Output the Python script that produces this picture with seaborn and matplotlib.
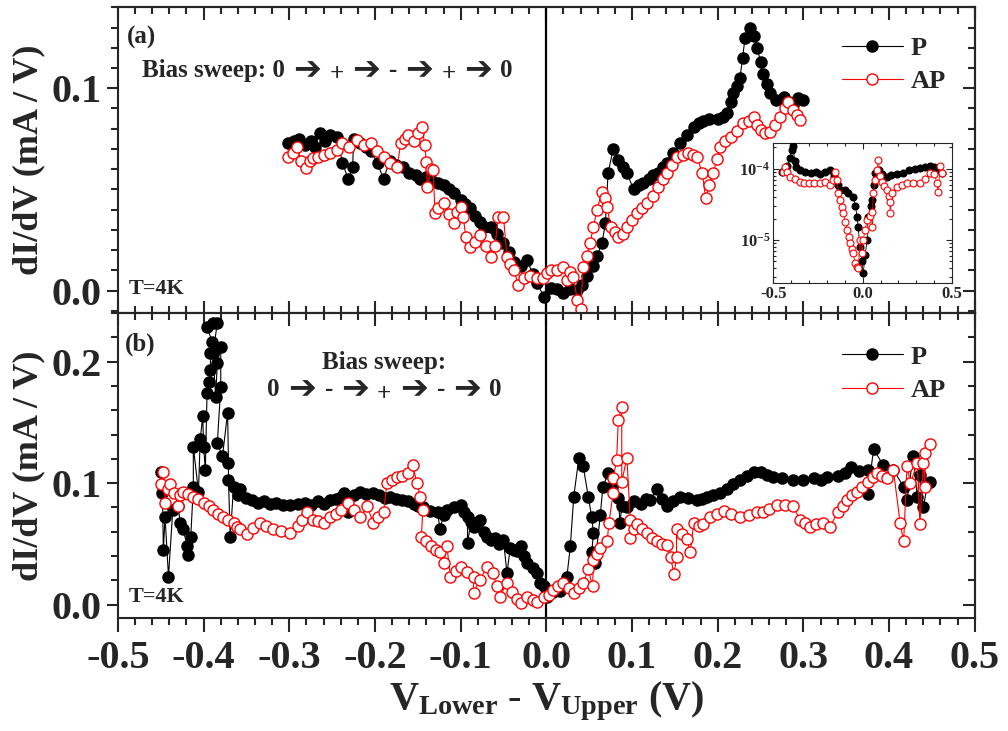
import numpy as np
import matplotlib
matplotlib.use("Agg")
import matplotlib.pyplot as plt
import seaborn as sns
from matplotlib.ticker import MultipleLocator, LogLocator, NullFormatter

# ---- data: (bias V, dI/dV mA/V) ----
top_p = np.array([
    [-0.301, 0.073], [-0.295, 0.074], [-0.289, 0.075], [-0.282, 0.072], [-0.275, 0.074],
    [-0.270, 0.071], [-0.264, 0.078], [-0.258, 0.074], [-0.252, 0.077], [-0.244, 0.076],
    [-0.238, 0.063], [-0.231, 0.055], [-0.226, 0.061], [-0.225, 0.075], [-0.218, 0.073],
    [-0.211, 0.071], [-0.205, 0.069], [-0.197, 0.063], [-0.190, 0.055], [-0.183, 0.064],
    [-0.175, 0.062], [-0.167, 0.061], [-0.160, 0.058], [-0.152, 0.057], [-0.147, 0.055],
    [-0.140, 0.056], [-0.133, 0.054], [-0.127, 0.053], [-0.120, 0.052], [-0.114, 0.050],
    [-0.108, 0.048], [-0.100, 0.045], [-0.095, 0.043], [-0.089, 0.041], [-0.083, 0.037],
    [-0.078, 0.034], [-0.073, 0.0315], [-0.065, 0.0315], [-0.058, 0.028], [-0.050, 0.0236],
    [-0.044, 0.019], [-0.038, 0.014], [-0.030, 0.012], [-0.022, 0.015], [-0.016, 0.008],
    [-0.011, 0.004], [-0.003, -0.003], [0.005, 0.0015], [0.012, 0.001], [0.020, -0.001],
    [0.028, 0.001], [0.036, 0.0005], [0.042, 0.003], [0.048, 0.007], [0.054, 0.012],
    [0.059, 0.017], [0.065, 0.0235], [0.069, 0.0335], [0.072, 0.058], [0.078, 0.070],
    [0.084, 0.0645], [0.089, 0.061], [0.094, 0.058], [0.102, 0.050], [0.108, 0.052],
    [0.113, 0.053], [0.120, 0.055], [0.125, 0.057], [0.130, 0.058], [0.136, 0.061],
    [0.141, 0.063], [0.148, 0.068], [0.156, 0.073], [0.164, 0.077], [0.172, 0.081],
    [0.178, 0.083], [0.183, 0.084], [0.190, 0.085], [0.200, 0.085], [0.206, 0.086],
    [0.211, 0.0877], [0.215, 0.093], [0.218, 0.0975], [0.222, 0.101], [0.226, 0.105],
    [0.229, 0.115], [0.232, 0.125], [0.238, 0.130], [0.242, 0.126], [0.246, 0.120],
    [0.250, 0.113], [0.253, 0.107], [0.257, 0.102], [0.261, 0.0975], [0.268, 0.094],
    [0.277, 0.0955], [0.283, 0.093], [0.288, 0.0916], [0.294, 0.095], [0.299, 0.094],
])

top_ap = np.array([
    [-0.301, 0.066], [-0.296, 0.068], [-0.291, 0.071], [-0.286, 0.064], [-0.281, 0.0606],
    [-0.276, 0.064], [-0.272, 0.0655], [-0.266, 0.066], [-0.260, 0.067], [-0.252, 0.068],
    [-0.244, 0.0695], [-0.238, 0.073], [-0.230, 0.071], [-0.221, 0.0744], [-0.213, 0.072],
    [-0.205, 0.073], [-0.198, 0.069], [-0.190, 0.066], [-0.182, 0.063], [-0.174, 0.061],
    [-0.170, 0.073], [-0.165, 0.075], [-0.161, 0.0768], [-0.155, 0.074], [-0.150, 0.078],
    [-0.145, 0.081], [-0.142, 0.072], [-0.140, 0.0636], [-0.139, 0.0512], [-0.135, 0.060],
    [-0.132, 0.0596], [-0.130, 0.0384], [-0.126, 0.041], [-0.120, 0.0433], [-0.114, 0.038],
    [-0.108, 0.0335], [-0.104, 0.039], [-0.100, 0.0414], [-0.097, 0.0365], [-0.094, 0.0266],
    [-0.089, 0.0217], [-0.083, 0.024], [-0.077, 0.0276], [-0.071, 0.022], [-0.065, 0.0167],
    [-0.060, 0.022], [-0.056, 0.0365], [-0.050, 0.0365], [-0.046, 0.0167], [-0.042, 0.013],
    [-0.038, 0.0103], [-0.033, 0.003], [-0.026, 0.006], [-0.019, 0.007], [-0.011, 0.006],
    [-0.0035, 0.0064], [0.001, 0.0089], [0.006, 0.010], [0.013, 0.0103], [0.020, 0.0118],
    [0.0245, 0.0054], [0.028, 0.009], [0.0315, 0.0069], [0.036, -0.0044], [0.040, -0.009],
    [0.043, 0.0118], [0.047, 0.017], [0.051, 0.0236], [0.055, 0.0315], [0.059, 0.040],
    [0.065, 0.0488], [0.068, 0.046], [0.071, 0.0414], [0.075, 0.0315], [0.080, 0.029],
    [0.084, 0.0266], [0.089, 0.028], [0.094, 0.0315], [0.100, 0.035], [0.106, 0.0384],
    [0.112, 0.041], [0.118, 0.0433], [0.124, 0.047], [0.130, 0.0512], [0.136, 0.055],
    [0.141, 0.058], [0.147, 0.062], [0.153, 0.066], [0.159, 0.067], [0.165, 0.068],
    [0.171, 0.067], [0.176, 0.066], [0.182, 0.058], [0.186, 0.0458], [0.190, 0.052],
    [0.195, 0.058], [0.199, 0.065], [0.203, 0.071], [0.209, 0.074], [0.215, 0.0759],
    [0.222, 0.079], [0.230, 0.0828], [0.236, 0.084], [0.242, 0.0857], [0.246, 0.082],
    [0.250, 0.0793], [0.255, 0.078], [0.261, 0.0783], [0.267, 0.082], [0.273, 0.0857],
    [0.278, 0.090], [0.282, 0.0931], [0.288, 0.0892], [0.292, 0.087], [0.296, 0.0842],
])

bot_p = np.array([
    [-0.450, 0.109], [-0.448, 0.092], [-0.447, 0.045], [-0.445, 0.072], [-0.441, 0.023],
    [-0.436, 0.078], [-0.430, 0.081], [-0.427, 0.067], [-0.424, 0.062], [-0.419, 0.048],
    [-0.418, 0.041], [-0.415, 0.056], [-0.412, 0.097], [-0.412, 0.130], [-0.406, 0.093],
    [-0.404, 0.136], [-0.401, 0.155], [-0.400, 0.130], [-0.398, 0.111], [-0.396, 0.174],
    [-0.394, 0.183], [-0.392, 0.193], [-0.392, 0.207], [-0.390, 0.216], [-0.396, 0.229],
    [-0.389, 0.232], [-0.384, 0.232], [-0.389, 0.207], [-0.386, 0.171], [-0.384, 0.199],
    [-0.380, 0.212], [-0.380, 0.179], [-0.384, 0.133], [-0.378, 0.122], [-0.372, 0.158],
    [-0.371, 0.117], [-0.371, 0.103], [-0.369, 0.056], [-0.365, 0.097], [-0.360, 0.090],
    [-0.357, 0.095], [-0.350, 0.088], [-0.343, 0.086], [-0.337, 0.084], [-0.330, 0.085],
    [-0.322, 0.083], [-0.315, 0.084], [-0.307, 0.082], [-0.299, 0.082], [-0.290, 0.083],
    [-0.282, 0.084], [-0.275, 0.082], [-0.267, 0.085], [-0.260, 0.083], [-0.252, 0.086],
    [-0.245, 0.087], [-0.240, 0.089], [-0.236, 0.092], [-0.232, 0.076], [-0.225, 0.090],
    [-0.217, 0.093], [-0.210, 0.091], [-0.202, 0.092], [-0.195, 0.090], [-0.188, 0.088],
    [-0.182, 0.089], [-0.175, 0.087], [-0.168, 0.086], [-0.162, 0.085], [-0.155, 0.083],
    [-0.150, 0.081], [-0.144, 0.080], [-0.136, 0.077], [-0.127, 0.076], [-0.124, 0.062],
    [-0.120, 0.074], [-0.116, 0.078], [-0.108, 0.080], [-0.100, 0.082], [-0.096, 0.076],
    [-0.092, 0.072], [-0.092, 0.051], [-0.088, 0.068], [-0.085, 0.064], [-0.081, 0.066],
    [-0.077, 0.070], [-0.073, 0.060], [-0.069, 0.056], [-0.065, 0.053], [-0.060, 0.055],
    [-0.055, 0.050], [-0.050, 0.053], [-0.046, 0.026], [-0.042, 0.047], [-0.038, 0.045],
    [-0.034, 0.044], [-0.030, 0.048], [-0.026, 0.040], [-0.022, 0.034], [-0.016, 0.030],
    [-0.011, 0.026], [-0.007, 0.018], [-0.003, 0.015], [0.001, 0.0066], [0.008, 0.010],
    [0.016, 0.011], [0.024, 0.023], [0.028, 0.048], [0.032, 0.089], [0.038, 0.121],
    [0.043, 0.114], [0.049, 0.089], [0.053, 0.072], [0.055, 0.059], [0.053, 0.043],
    [0.057, 0.034], [0.063, 0.074], [0.066, 0.097], [0.072, 0.108], [0.077, 0.097],
    [0.084, 0.088], [0.086, 0.067], [0.088, 0.081], [0.094, 0.080], [0.102, 0.085],
    [0.110, 0.083], [0.116, 0.087], [0.121, 0.086], [0.129, 0.095], [0.135, 0.087],
    [0.141, 0.081], [0.148, 0.085], [0.156, 0.089], [0.165, 0.088], [0.176, 0.086],
    [0.182, 0.087], [0.188, 0.089], [0.195, 0.090], [0.203, 0.092], [0.211, 0.095],
    [0.218, 0.099], [0.226, 0.103], [0.234, 0.106], [0.242, 0.109], [0.250, 0.109],
    [0.257, 0.107], [0.265, 0.105], [0.275, 0.104], [0.288, 0.103], [0.300, 0.103],
    [0.312, 0.104], [0.320, 0.103], [0.328, 0.105], [0.340, 0.106], [0.348, 0.108],
    [0.355, 0.113], [0.365, 0.110], [0.375, 0.111], [0.375, 0.091], [0.382, 0.128],
    [0.393, 0.115], [0.405, 0.111], [0.417, 0.097], [0.421, 0.086], [0.428, 0.122],
    [0.433, 0.089], [0.436, 0.107], [0.440, 0.080], [0.445, 0.100], [0.448, 0.101],
])

bot_ap = np.array([
    [-0.450, 0.099], [-0.447, 0.109], [-0.445, 0.084], [-0.442, 0.095], [-0.439, 0.099],
    [-0.434, 0.092], [-0.430, 0.081], [-0.427, 0.090], [-0.424, 0.093], [-0.418, 0.091],
    [-0.412, 0.089], [-0.406, 0.087], [-0.400, 0.084], [-0.394, 0.081], [-0.389, 0.078],
    [-0.383, 0.075], [-0.377, 0.072], [-0.371, 0.070], [-0.365, 0.067], [-0.361, 0.064],
    [-0.357, 0.062], [-0.349, 0.058], [-0.342, 0.063], [-0.334, 0.067], [-0.327, 0.065],
    [-0.319, 0.062], [-0.310, 0.061], [-0.299, 0.059], [-0.290, 0.065], [-0.285, 0.070],
    [-0.279, 0.076], [-0.272, 0.070], [-0.266, 0.069], [-0.260, 0.067], [-0.252, 0.072],
    [-0.246, 0.075], [-0.240, 0.078], [-0.232, 0.084], [-0.225, 0.078], [-0.217, 0.072],
    [-0.209, 0.081], [-0.202, 0.067], [-0.196, 0.072], [-0.190, 0.076], [-0.186, 0.100],
    [-0.180, 0.103], [-0.174, 0.105], [-0.168, 0.106], [-0.162, 0.108], [-0.156, 0.115],
    [-0.151, 0.100], [-0.147, 0.089], [-0.144, 0.078], [-0.146, 0.056], [-0.140, 0.052],
    [-0.135, 0.048], [-0.129, 0.045], [-0.124, 0.043], [-0.120, 0.034], [-0.116, 0.048],
    [-0.112, 0.023], [-0.106, 0.028], [-0.100, 0.031], [-0.093, 0.027], [-0.085, 0.023],
    [-0.085, 0.0099], [-0.078, 0.020], [-0.069, 0.031], [-0.062, 0.026], [-0.058, 0.015],
    [-0.054, 0.0066], [-0.046, 0.018], [-0.040, 0.010], [-0.034, 0.005], [-0.030, 0.0016],
    [-0.022, 0.0066], [-0.016, 0.004], [-0.011, 0.0025], [-0.003, 0.0066], [0.003, 0.008],
    [0.008, 0.012], [0.014, 0.015], [0.020, 0.018], [0.026, 0.014], [0.032, 0.0099],
    [0.038, 0.014], [0.043, 0.018], [0.049, 0.029], [0.054, 0.015], [0.055, 0.037],
    [0.059, 0.042], [0.063, 0.047], [0.071, 0.052], [0.073, 0.067], [0.078, 0.092],
    [0.078, 0.104], [0.082, 0.119], [0.084, 0.152], [0.088, 0.163], [0.088, 0.101],
    [0.094, 0.121], [0.098, 0.070], [0.098, 0.055], [0.102, 0.062], [0.106, 0.066],
    [0.112, 0.062], [0.117, 0.059], [0.123, 0.055], [0.129, 0.052], [0.135, 0.050],
    [0.141, 0.049], [0.145, 0.039], [0.149, 0.025], [0.152, 0.039], [0.152, 0.062],
    [0.158, 0.058], [0.164, 0.054], [0.168, 0.043], [0.172, 0.067], [0.178, 0.065],
    [0.183, 0.066], [0.191, 0.072], [0.199, 0.075], [0.207, 0.077], [0.216, 0.075],
    [0.226, 0.072], [0.236, 0.074], [0.246, 0.076], [0.253, 0.076], [0.260, 0.079],
    [0.269, 0.082], [0.279, 0.082], [0.288, 0.081], [0.296, 0.070], [0.302, 0.067],
    [0.308, 0.064], [0.315, 0.066], [0.323, 0.067], [0.331, 0.064], [0.340, 0.076],
    [0.346, 0.081], [0.351, 0.086], [0.357, 0.090], [0.363, 0.093], [0.369, 0.097],
    [0.375, 0.101], [0.381, 0.105], [0.386, 0.108], [0.392, 0.106], [0.398, 0.104],
    [0.405, 0.111], [0.413, 0.067], [0.417, 0.052], [0.421, 0.114], [0.425, 0.100],
    [0.433, 0.117], [0.436, 0.066], [0.440, 0.117], [0.442, 0.097], [0.442, 0.125],
    [0.448, 0.132],
])

# inset, log scale (A/V)
ins_p = np.array([
    [-0.450, 9.0e-5], [-0.435, 1.0e-4], [-0.420, 1.1e-4], [-0.405, 1.4e-4], [-0.395, 1.85e-4],
    [-0.388, 2.1e-4], [-0.380, 1.3e-4], [-0.370, 1.05e-4], [-0.350, 9.5e-5], [-0.320, 9.0e-5],
    [-0.290, 8.8e-5], [-0.260, 9.0e-5], [-0.237, 8.5e-5], [-0.210, 9.0e-5], [-0.180, 9.5e-5],
    [-0.160, 8.0e-5], [-0.140, 6.0e-5], [-0.126, 5.1e-5], [-0.100, 5.0e-5], [-0.080, 4.6e-5],
    [-0.053, 4.0e-5], [-0.040, 3.0e-5], [-0.031, 2.1e-5], [-0.025, 1.5e-5], [-0.015, 8.0e-6],
    [-0.005, 5.0e-6], [0.003, 3.4e-6], [0.014, 6.1e-6], [0.025, 1.0e-5], [0.031, 2.1e-5],
    [0.045, 3.0e-5], [0.053, 3.6e-5], [0.062, 6.0e-5], [0.070, 8.8e-5], [0.090, 9.5e-5],
    [0.110, 8.5e-5], [0.136, 7.7e-5], [0.160, 8.2e-5], [0.190, 8.5e-5], [0.227, 8.8e-5],
    [0.260, 9.5e-5], [0.290, 1.0e-4], [0.320, 1.03e-4], [0.350, 1.05e-4], [0.377, 1.1e-4],
    [0.400, 1.05e-4], [0.420, 9.5e-5], [0.444, 8.8e-5],
])

ins_ap = np.array([
    [-0.444, 9.1e-5], [-0.435, 1.05e-4], [-0.425, 9.0e-5], [-0.405, 7.7e-5], [-0.380, 7.2e-5],
    [-0.350, 6.6e-5], [-0.330, 6.3e-5], [-0.300, 6.2e-5], [-0.270, 6.4e-5], [-0.237, 6.3e-5],
    [-0.210, 6.5e-5], [-0.180, 6.0e-5], [-0.165, 7.0e-5], [-0.155, 9.0e-5], [-0.144, 7.0e-5],
    [-0.135, 4.6e-5], [-0.126, 3.6e-5], [-0.117, 2.9e-5], [-0.108, 2.4e-5], [-0.098, 1.8e-5],
    [-0.087, 1.4e-5], [-0.078, 1.1e-5], [-0.070, 9.1e-6], [-0.060, 7.5e-6], [-0.053, 6.6e-6],
    [-0.042, 4.7e-6], [-0.032, 4.2e-6], [-0.025, 4.0e-6], [-0.014, 1.0e-5], [-0.003, 6.6e-6],
    [0.003, 1.0e-5], [0.014, 1.4e-5], [0.025, 1.9e-5], [0.040, 2.2e-5], [0.053, 2.5e-5],
    [0.053, 1.5e-5], [0.059, 4.6e-5], [0.070, 7.0e-5], [0.081, 9.7e-5], [0.087, 1.34e-4],
    [0.098, 8.0e-5], [0.109, 6.6e-5], [0.120, 5.8e-5], [0.136, 5.1e-5], [0.145, 4.2e-5],
    [0.153, 3.4e-5], [0.153, 2.4e-5], [0.165, 4.5e-5], [0.190, 5.6e-5], [0.220, 6.0e-5],
    [0.248, 6.3e-5], [0.280, 6.2e-5], [0.320, 6.3e-5], [0.350, 7.2e-5], [0.377, 8.8e-5],
    [0.400, 8.5e-5], [0.416, 6.3e-5], [0.422, 4.7e-5], [0.433, 1.1e-4], [0.444, 8.8e-5],
])

x_ticks = [-0.5, -0.4, -0.3, -0.2, -0.1, 0.0, 0.1, 0.2, 0.3, 0.4, 0.5]
sweep_a = ["Bias sweep: 0", "+", "-", "+", "0"]
sweep_b = ["0", "-", "+", "-", "0"]

# ---- style ----
sns.set_style("ticks")
plt.rcParams["font.family"] = ["Liberation Serif", "DejaVu Sans"]
plt.rcParams["font.weight"] = "bold"
plt.rcParams["axes.labelweight"] = "bold"
plt.rcParams["mathtext.fontset"] = "custom"
plt.rcParams["mathtext.rm"] = "Liberation Serif:bold"
plt.rcParams["mathtext.it"] = "Liberation Serif:bold"
plt.rcParams["mathtext.bf"] = "Liberation Serif:bold"
plt.rcParams["axes.linewidth"] = 1.5

ARR = "\u2794"


def draw_pair(ax, p, ap, ms, lw, mew):
    sns.lineplot(x=p[:, 0], y=p[:, 1], ax=ax, sort=False, estimator=None,
                 color="black", linewidth=lw, marker="o", markersize=ms,
                 markerfacecolor="black", markeredgecolor="black",
                 markeredgewidth=mew, label="P", zorder=3)
    sns.lineplot(x=ap[:, 0], y=ap[:, 1], ax=ax, sort=False, estimator=None,
                 color="red", linewidth=lw, marker="o", markersize=ms,
                 markerfacecolor="white", markeredgecolor="red",
                 markeredgewidth=mew, label="AP", zorder=4)


def sweep_text(ax, x, y, parts):
    # words at 18pt, arrows a bit larger, chained left to right; "+" sits a bit low
    prev = ax.text(x, y, parts[0], transform=ax.transAxes, fontsize=18, va="center")
    drop = 0
    for word in parts[1:]:
        arr = ax.annotate(ARR, xy=(1, 0.5), xycoords=prev, xytext=(6, -drop),
                          textcoords="offset points", fontsize=24, va="center")
        drop = 3 if word == "+" else 0
        prev = ax.annotate(word, xy=(1, 0.5), xycoords=arr, xytext=(6, -drop),
                           textcoords="offset points", fontsize=18, va="center")
        drop = -drop


def style_main(ax, ymaj, ymin, bottom_labels, leg_y):
    ax.set_xlim(-0.5, 0.5)
    ax.xaxis.set_major_locator(MultipleLocator(0.1))
    ax.xaxis.set_minor_locator(MultipleLocator(0.02))
    ax.yaxis.set_major_locator(MultipleLocator(ymaj))
    ax.yaxis.set_minor_locator(MultipleLocator(ymin))
    ax.tick_params(axis="y", which="both", direction="out", left=True, right=False,
                   labelsize=29, width=1.5, pad=4)
    ax.tick_params(axis="y", which="major", length=8)
    ax.tick_params(axis="y", which="minor", length=5)
    if bottom_labels:
        ax.tick_params(axis="x", which="both", direction="out", bottom=True, top=False,
                       labelsize=29, width=1.5, pad=6)
        ax.tick_params(axis="x", which="major", length=10)
        ax.tick_params(axis="x", which="minor", length=5)
        ax.set_xticks(x_ticks)
        ax.set_xticklabels(["%.1f" % v for v in x_ticks])
    else:
        ax.tick_params(axis="x", which="both", direction="in", bottom=True, top=False,
                       labelbottom=False, width=1.5)
        ax.tick_params(axis="x", which="major", length=9)
        ax.tick_params(axis="x", which="minor", length=5)
    sec_x = ax.secondary_xaxis("top")
    sec_x.xaxis.set_major_locator(MultipleLocator(0.1))
    sec_x.xaxis.set_minor_locator(MultipleLocator(0.02))
    sec_x.tick_params(which="both", direction="in", labeltop=False, width=1.5)
    sec_x.tick_params(which="major", length=9)
    sec_x.tick_params(which="minor", length=5)
    sec_y = ax.secondary_yaxis("right")
    sec_y.yaxis.set_major_locator(MultipleLocator(ymaj))
    sec_y.yaxis.set_minor_locator(MultipleLocator(ymin))
    sec_y.tick_params(which="both", direction="in", labelright=False, width=1.5)
    sec_y.tick_params(which="major", length=9)
    sec_y.tick_params(which="minor", length=5)
    ax.axvline(0, color="black", linewidth=1.6, zorder=2)
    ax.set_ylabel("dI/dV (mA / V)", fontsize=26, labelpad=4)
    ax.legend(loc="upper left", bbox_to_anchor=(0.845, leg_y), frameon=False,
              fontsize=19, handlelength=2.3, handletextpad=0.3, labelspacing=0.38,
              borderpad=0, borderaxespad=0)


fig = plt.figure(figsize=(10.08, 7.31), dpi=100)
ax1 = fig.add_axes([0.117, 0.572, 0.850, 0.418])
ax2 = fig.add_axes([0.117, 0.1546, 0.850, 0.417])

draw_pair(ax1, top_p, top_ap, 8, 0.8, 1.0)
draw_pair(ax2, bot_p, bot_ap, 8, 0.8, 1.0)

ax1.set_ylim(-0.011, 0.14)
ax2.set_ylim(-0.011, 0.24)
style_main(ax1, 0.1, 0.01, False, 0.905)
style_main(ax2, 0.1, 0.02, True, 0.895)
ax2.set_xlabel(r"V$_{\mathrm{Lower}}$ - V$_{\mathrm{Upper}}$ (V)", fontsize=29, labelpad=2)

# annotations
ax1.text(0.0105, 0.94, "(a)", transform=ax1.transAxes, fontsize=18, va="top")
sweep_text(ax1, 0.028, 0.794, sweep_a)
ax1.text(0.012, 0.077, "T=4K", transform=ax1.transAxes, fontsize=16, va="center")
ax2.text(0.008, 0.935, "(b)", transform=ax2.transAxes, fontsize=18, va="top")
ax2.text(0.311, 0.839, "Bias sweep:", transform=ax2.transAxes, fontsize=18,
         va="center", ha="center")
sweep_text(ax2, 0.174, 0.748, sweep_b)
ax2.text(0.012, 0.069, "T=4K", transform=ax2.transAxes, fontsize=16, va="center")

# inset
axin = fig.add_axes([0.767, 0.613, 0.1776, 0.1915])
sns.lineplot(x=ins_p[:, 0], y=ins_p[:, 1], ax=axin, sort=False, estimator=None,
             color="black", linewidth=0.6, marker="o", markersize=5,
             markerfacecolor="black", markeredgecolor="black", markeredgewidth=0.8,
             zorder=3)
sns.lineplot(x=ins_ap[:, 0], y=ins_ap[:, 1], ax=axin, sort=False, estimator=None,
             color="red", linewidth=0.6, marker="o", markersize=5,
             markerfacecolor="white", markeredgecolor="red", markeredgewidth=0.8,
             zorder=4)
axin.set_yscale("log")
axin.set_xlim(-0.5, 0.5)
axin.set_ylim(2.5e-6, 2.3e-4)
axin.set_xticks([-0.5, 0.0, 0.5])
axin.set_xticklabels(["-0.5", "0.0", "0.5"])
axin.xaxis.set_minor_locator(MultipleLocator(0.1))
axin.yaxis.set_major_locator(LogLocator(base=10, numticks=5))
axin.yaxis.set_minor_locator(LogLocator(base=10, subs=np.arange(2, 10), numticks=10))
axin.yaxis.set_minor_formatter(NullFormatter())
axin.tick_params(which="both", direction="in", top=True, right=True, labelsize=12,
                 width=0.8, pad=2)
axin.tick_params(which="major", length=4)
axin.tick_params(which="minor", length=2)
for sp in axin.spines.values():
    sp.set_linewidth(0.8)
if axin.get_legend() is not None:
    axin.get_legend().remove()

fig.savefig("out.png", dpi=100)
